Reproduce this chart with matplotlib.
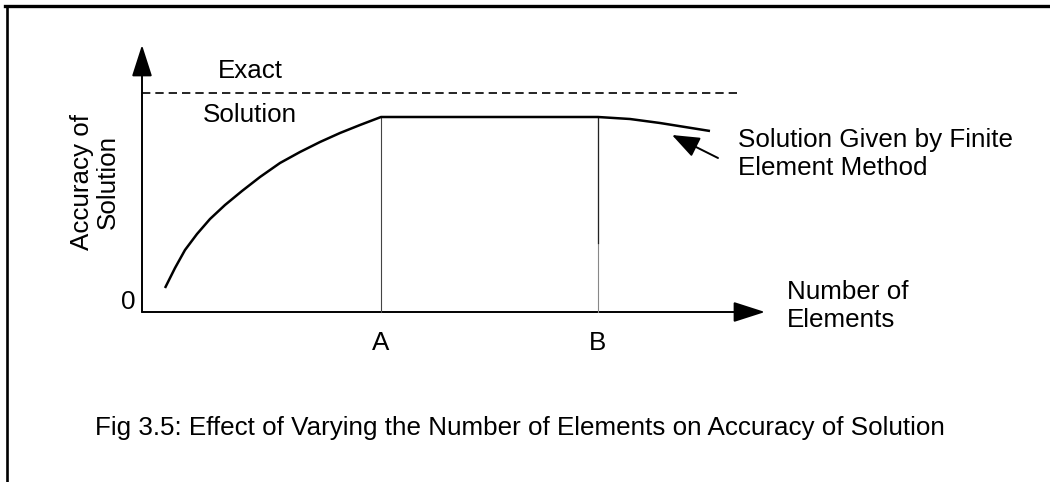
import matplotlib
matplotlib.use("Agg")
from matplotlib import pyplot as plt
from matplotlib.patches import FancyArrowPatch

plt.rcParams["font.family"] = ["Liberation Sans", "DejaVu Sans"]

# curve (x = number of elements, y = accuracy), arbitrary units
curve_x = [0.23, 0.33, 0.43, 0.55, 0.68, 0.83, 1.00, 1.18, 1.38, 1.58, 1.78, 1.98, 2.18, 2.39,
           4.56, 4.88, 5.18, 5.68]
curve_y = [0.24, 0.44, 0.62, 0.78, 0.93, 1.07, 1.21, 1.35, 1.49, 1.60, 1.70, 1.79, 1.87, 1.95,
           1.95, 1.93, 1.89, 1.81]
exact_y = 2.19
exact_x_end = 6.0
marks = ["A", "B"]
mark_x = [2.39, 4.56]
plateau_y = 1.95

FS = 18.7

fig = plt.figure(figsize=(10.5, 4.82), dpi=100)
ax = fig.add_axes([0, 0, 1, 1])
ax.set_xlim(-1.42, 9.08)
ax.set_ylim(-1.70, 3.12)
ax.axis("off")

# frame around the figure (top and left edges only are visible)
ax.plot([-1.37, 9.08], [3.06, 3.06], color="black", lw=2.4, clip_on=False)
ax.plot([-1.35, -1.35], [3.06, -1.70], color="black", lw=1.9, clip_on=False)

# axes with arrow heads
for end in [(6.23, 0), (0, 2.67)]:
    ax.add_patch(FancyArrowPatch((0, 0), end, arrowstyle="-|>,head_length=1.4,head_width=0.45",
                                 mutation_scale=14, color="black", lw=1.4, shrinkA=0, shrinkB=0))

# exact solution
ax.plot([0, exact_x_end], [exact_y, exact_y], color="black", lw=1.2, dashes=(5, 3))

# verticals at A and B
ax.plot([mark_x[0], mark_x[0]], [0, plateau_y], color="#444444", lw=0.8)
ax.plot([mark_x[1], mark_x[1]], [0, plateau_y], color="#888888", lw=0.8)
ax.plot([mark_x[1], mark_x[1]], [0.69, plateau_y], color="#222222", lw=0.9)

# FEM solution
ax.plot(curve_x, curve_y, color="black", lw=1.8, solid_capstyle="butt", solid_joinstyle="round")

# annotation arrow
ax.add_patch(FancyArrowPatch((5.76, 1.54), (5.30, 1.77), arrowstyle="-|>,head_length=1.3,head_width=0.5",
                             mutation_scale=13, color="black", lw=1.4, shrinkA=0, shrinkB=0))

ax.text(1.08, 2.41, "Exact", fontsize=FS, ha="center", va="center")
ax.text(1.08, 1.97, "Solution", fontsize=FS, ha="center", va="center")
ax.text(-0.47, 1.30, "Accuracy of\nSolution", fontsize=FS, rotation=90, ha="center", va="center",
        linespacing=1.1)
ax.text(-0.14, 0.10, "0", fontsize=FS, ha="center", va="center")
for m, mx in zip(marks, mark_x):
    ax.text(mx, -0.31, m, fontsize=FS, ha="center", va="center")
ax.text(6.45, 0.06, "Number of\nElements", fontsize=FS, ha="left", va="center", linespacing=1.22)
ax.text(5.96, 1.58, "Solution Given by Finite\nElement Method", fontsize=FS, ha="left", va="center",
        linespacing=1.22)
ax.text(-0.47, -1.16, "Fig 3.5: Effect of Varying the Number of Elements on Accuracy of Solution",
        fontsize=FS, ha="left", va="center")

fig.savefig("out.png", dpi=100)
